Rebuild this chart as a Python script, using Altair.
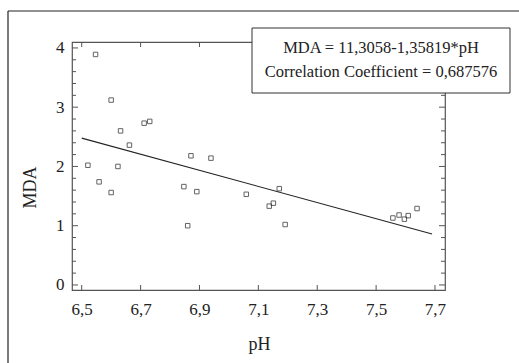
import altair as alt
import pandas as pd

# Measured samples: pH and MDA
ph = [6.547, 6.600, 6.632, 6.662, 6.712, 6.731, 6.871, 6.939, 6.521, 6.623,
      6.559, 6.600, 6.847, 6.891, 6.860, 7.059, 7.171, 7.137, 7.151, 7.191,
      7.557, 7.578, 7.596, 7.609, 7.639]
mda = [3.89, 3.12, 2.60, 2.36, 2.73, 2.76, 2.18, 2.14, 2.02, 2.00,
       1.74, 1.56, 1.66, 1.575, 1.00, 1.53, 1.625, 1.33, 1.38, 1.02,
       1.13, 1.18, 1.11, 1.17, 1.29]

# Fitted regression: MDA = 11,3058 - 1,35819*pH
intercept = 11.3058
slope = -1.35819
fit_ph = [6.5, 7.69]
fit_mda = [intercept + slope * p for p in fit_ph]

equation_text = "MDA = 11,3058-1,35819*pH"
corr_text = "Correlation Coefficient = 0,687576"

x_ticks = [6.5, 6.7, 6.9, 7.1, 7.3, 7.5, 7.7]
y_major = [0, 1, 2, 3, 4]
y_minor = [round(i * 0.2, 1) for i in range(0, 21) if i % 5 != 0]

W, H = 373, 248
FONT = "Liberation Serif"
INK = "#222222"
AXIS = "#555555"

x_scale = alt.Scale(domain=[6.467, 7.734], nice=False, zero=False)
y_scale = alt.Scale(domain=[-0.085, 4.1], nice=False, zero=False)

x_axis = alt.Axis(values=x_ticks, labelExpr="replace(format(datum.value, '.1f'), '.', ',')",
                  labelFont=FONT, labelFontSize=17, labelColor=INK,
                  title="pH", titleFont=FONT, titleFontSize=18, titleColor=INK,
                  titleFontWeight="normal",
                  titleX=187, titleY=59, titleBaseline="alphabetic",
                  titleAlign="center", labelPadding=11)
y_axis = alt.Axis(values=y_major, format="d",
                  labelFont=FONT, labelFontSize=17, labelColor=INK,
                  title="MDA", titleFont=FONT, titleFontSize=18, titleColor=INK,
                  titleFontWeight="normal", titleAngle=270,
                  titleX=-42, titleY=145, titleAlign="center", titleBaseline="middle",
                  labelPadding=8)

pts = pd.DataFrame({"pH": ph, "MDA": mda})
fit = pd.DataFrame({"pH": fit_ph, "MDA": fit_mda})
xt = pd.DataFrame({"v": x_ticks})
ymaj = pd.DataFrame({"v": y_major})
ymin = pd.DataFrame({"v": y_minor})
one = pd.DataFrame({"k": [0]})

# outer page frame: top and left edges
frame_top = alt.Chart(one).mark_rule(color=INK, strokeWidth=1.2).encode(
    x=alt.value(-64), x2=alt.value(W + 80), y=alt.value(-31))
frame_left = alt.Chart(one).mark_rule(color=INK, strokeWidth=1.2).encode(
    x=alt.value(-64), y=alt.value(-31), y2=alt.value(H + 80))

points = alt.Chart(pts).mark_point(shape="square", filled=False, size=20,
                                   strokeWidth=1, color=INK).encode(
    x=alt.X("pH:Q", scale=x_scale, axis=x_axis),
    y=alt.Y("MDA:Q", scale=y_scale, axis=y_axis))

line = alt.Chart(fit).mark_line(color=INK, strokeWidth=1.1).encode(
    x=alt.X("pH:Q", scale=x_scale, axis=x_axis),
    y=alt.Y("MDA:Q", scale=y_scale, axis=y_axis))

def xtick(y0, y1):
    return alt.Chart(xt).mark_rule(color=AXIS, strokeWidth=1).encode(
        x=alt.X("v:Q", scale=x_scale, axis=x_axis), y=alt.value(y0), y2=alt.value(y1))

def ytick(df, x0, x1):
    return alt.Chart(df).mark_rule(color=AXIS, strokeWidth=1).encode(
        y=alt.Y("v:Q", scale=y_scale, axis=y_axis), x=alt.value(x0), x2=alt.value(x1))

ticks = [
    xtick(H, H - 5), xtick(0, 5),
    ytick(ymaj, 0, 6), ytick(ymin, 0, 4),
    ytick(ymaj, W, W - 6), ytick(ymin, W, W - 4),
]

box = alt.Chart(one).mark_rect(fill="white", stroke="#333333", strokeWidth=1).encode(
    x=alt.value(180), x2=alt.value(438), y=alt.value(-14), y2=alt.value(51))

eq = alt.Chart(one).mark_text(text=equation_text, font=FONT, fontSize=16.5, color=INK,
                              align="center", baseline="alphabetic").encode(
    x=alt.value(309), y=alt.value(11))
cc = alt.Chart(one).mark_text(text=corr_text, font=FONT, fontSize=16.5, color=INK,
                              align="center", baseline="alphabetic").encode(
    x=alt.value(309), y=alt.value(35))

chart = alt.layer(frame_top, frame_left, line, points, *ticks, box, eq, cc).properties(
    width=W, height=H,
    autosize=alt.AutoSizeParams(type="none"),
    padding={"left": 72, "top": 42, "right": 74, "bottom": 73},
    background="white",
).configure_view(stroke=AXIS, strokeWidth=1.2).configure_axis(
    domain=False, ticks=False, grid=False,
    labelFont=FONT, labelFontSize=17, labelColor=INK,
    titleFont=FONT, titleFontSize=18, titleColor=INK, titleFontWeight="normal",
)

chart.save("out.html", embed_options={"renderer": "svg", "actions": False})
